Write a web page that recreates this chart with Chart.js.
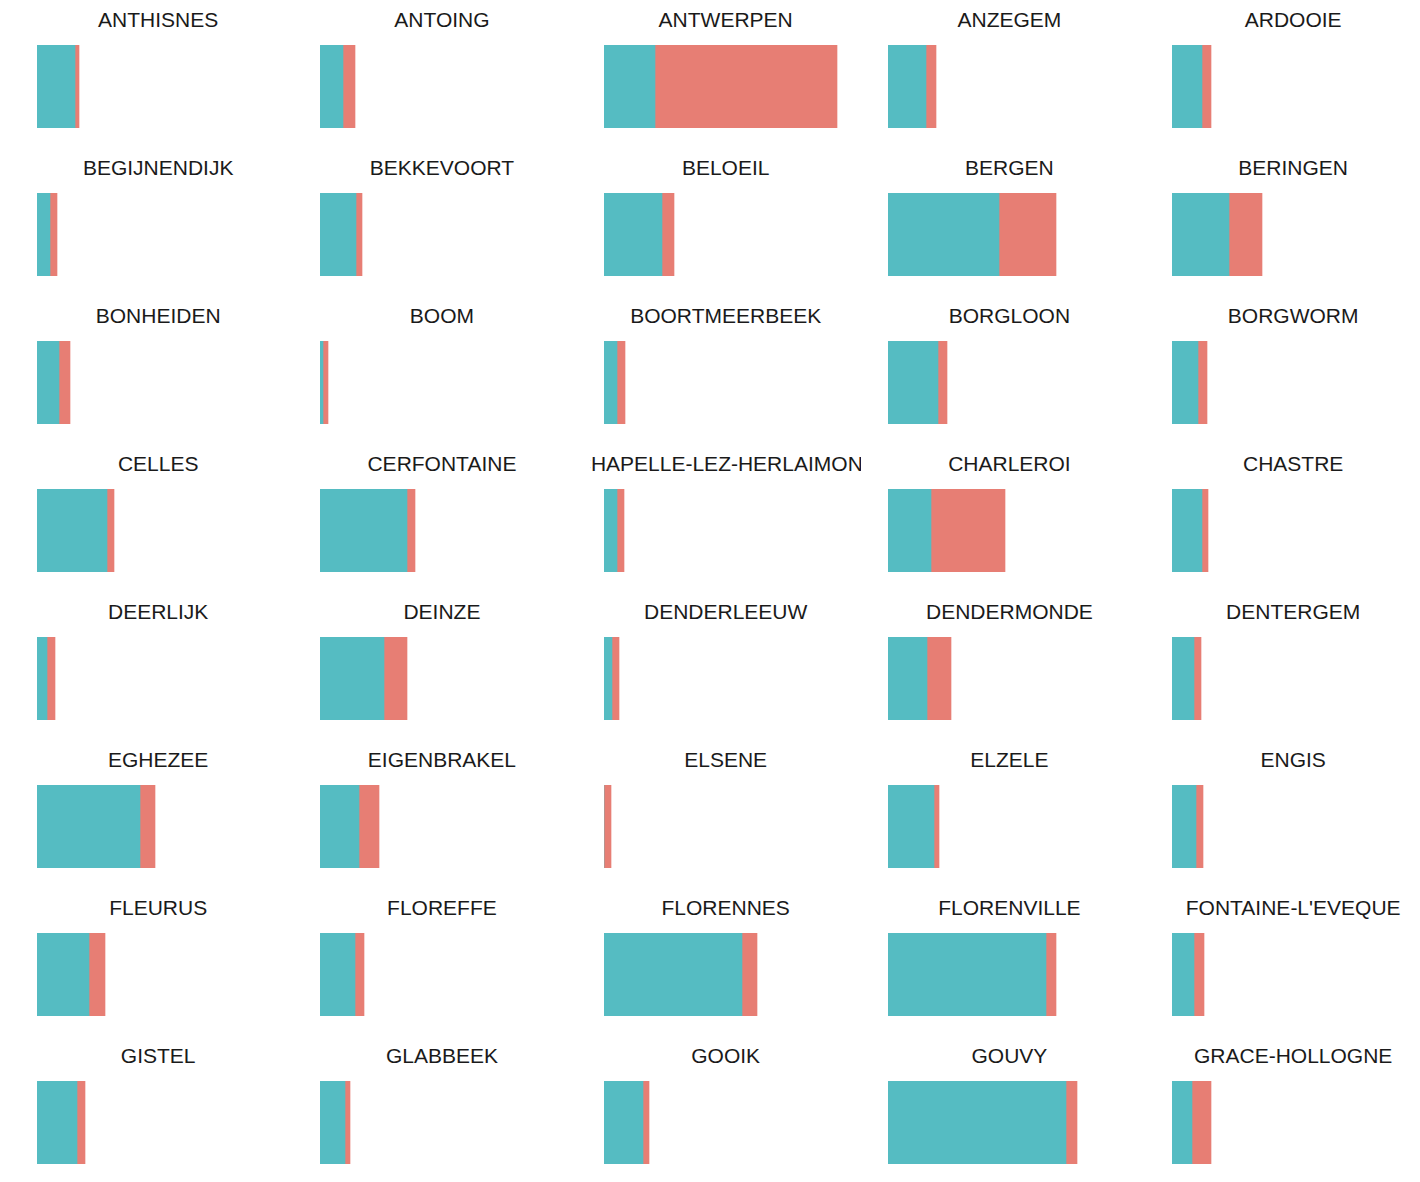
<!DOCTYPE html>
<html>
<head>
<meta charset="utf-8">
<script src="https://cdn.jsdelivr.net/npm/chart.js@4"></script>
<style>
  body { margin: 0; background: #fff; width: 1420px; height: 1182px; position: relative; overflow: hidden; }
  .panel { position: absolute; width: 271px; height: 148px; }
  .strip {
    position: absolute; left: 0; top: 0; width: 271px; height: 40px;
    overflow: hidden; display: flex; justify-content: center;
    font-family: "Liberation Sans", Arial, Helvetica, sans-serif;
    font-size: 21px; line-height: 40px; color: #1a1a1a; white-space: nowrap;
  }
  .panel canvas { position: absolute; left: 14px; top: 45px; }
</style>
</head>
<body>
<script>
// municipality names, one small panel each
const municipalities = [
  'ANTHISNES', 'ANTOING', 'ANTWERPEN', 'ANZEGEM', 'ARDOOIE',
  'BEGIJNENDIJK', 'BEKKEVOORT', 'BELOEIL', 'BERGEN', 'BERINGEN',
  'BONHEIDEN', 'BOOM', 'BOORTMEERBEEK', 'BORGLOON', 'BORGWORM',
  'CELLES', 'CERFONTAINE', 'CHAPELLE-LEZ-HERLAIMONT', 'CHARLEROI', 'CHASTRE',
  'DEERLIJK', 'DEINZE', 'DENDERLEEUW', 'DENDERMONDE', 'DENTERGEM',
  'EGHEZEE', 'EIGENBRAKEL', 'ELSENE', 'ELZELE', 'ENGIS',
  'FLEURUS', 'FLOREFFE', 'FLORENNES', 'FLORENVILLE', "FONTAINE-L'EVEQUE",
  'GISTEL', 'GLABBEEK', 'GOOIK', 'GOUVY', 'GRACE-HOLLOGNE'
];

// first segment (teal)
const tealValues = [
  38, 23, 51, 38, 30,
  13, 36, 58, 111, 57,
  22, 3, 13, 50, 26,
  70, 87, 13, 43, 30,
  10, 64, 8, 39, 22,
  103, 39, 0, 46, 24,
  52, 35, 138, 158, 22,
  40, 25, 39, 178, 20
];

// second segment (salmon)
const salmonValues = [
  4, 12, 182, 10, 9,
  7, 6, 12, 57, 33,
  11, 5, 8, 9, 9,
  7, 8, 7, 74, 6,
  8, 23, 7, 24, 7,
  15, 20, 7, 5, 7,
  16, 9, 15, 10, 10,
  8, 5, 6, 11, 19
];

// shared x range for every panel
const xMax = 244;

var charts = [];

function makePanel(i) {
  const col = i % 5;
  const row = Math.floor(i / 5);

  const panel = document.createElement('div');
  panel.className = 'panel';
  panel.style.left = (36.7 + col * 283.75 - 14) + 'px';
  panel.style.top = (row * 148) + 'px';

  const strip = document.createElement('div');
  strip.className = 'strip';
  const label = document.createElement('span');
  label.textContent = municipalities[i];
  strip.appendChild(label);
  panel.appendChild(strip);

  const canvas = document.createElement('canvas');
  canvas.width = 244;
  canvas.height = 83;
  canvas.style.width = '244px';
  canvas.style.height = '83px';
  panel.appendChild(canvas);
  document.body.appendChild(panel);

  const chart = new Chart(canvas, {
    type: 'bar',
    data: {
      labels: [municipalities[i]],
      datasets: [
        { data: [tealValues[i]], backgroundColor: '#55bcc2', borderWidth: 0 },
        { data: [salmonValues[i]], backgroundColor: '#e77e74', borderWidth: 0 }
      ]
    },
    options: {
      indexAxis: 'y',
      responsive: false,
      animation: false,
      devicePixelRatio: 1,
      layout: { padding: 0 },
      datasets: { bar: { barPercentage: 1, categoryPercentage: 1 } },
      scales: {
        x: { stacked: true, min: 0, max: xMax, display: false },
        y: { stacked: true, display: false }
      },
      plugins: { legend: { display: false }, tooltip: { enabled: false } }
    }
  });
  charts.push(chart);
}

for (let i = 0; i < municipalities.length; i++) {
  makePanel(i);
}
</script>
</body>
</html>
